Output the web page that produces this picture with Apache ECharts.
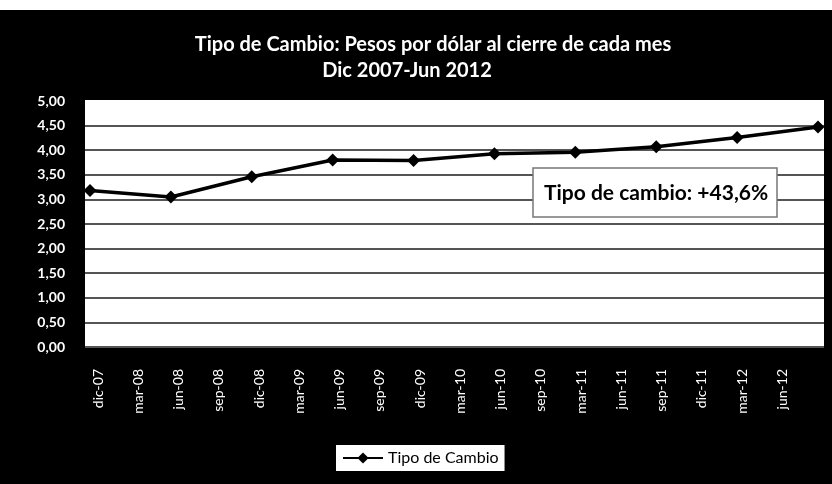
<!DOCTYPE html>
<html><head><meta charset="utf-8">
<script src="https://cdn.jsdelivr.net/npm/echarts@6/dist/echarts.min.js"></script>
<style>html,body{margin:0;padding:0;background:#fff}#c{width:832px;height:484px}</style>
</head><body><div id="c"></div>
<script>
var categories = ['dic-07','jun-08','dic-08','jun-09','dic-09','jun-10','dic-10','jun-11','dic-11','jun-12'];
var values = [3.18, 3.05, 3.46, 3.80, 3.79, 3.93, 3.96, 4.07, 4.26, 4.47];
var tickLabels = ['dic-07','mar-08','jun-08','sep-08','dic-08','mar-09','jun-09','sep-09','dic-09','mar-10','jun-10','sep-10','mar-11','jun-11','sep-11','dic-11','mar-12','jun-12',''];
var seriesName = 'Tipo de Cambio';
var title1 = 'Tipo de Cambio: Pesos por dólar al cierre de cada mes';
var title2 = 'Dic 2007-Jun 2012';
var note = 'Tipo de cambio: +43,6%';

var FONT = 'Lato';
var chart = echarts.init(document.getElementById('c'));
var gTop = 101, gBottom = 137;
var gridColors = ['#555','#555','#555','#555','#555','#555','#555','#555','#555','#555','#fff'];
chart.setOption({
  backgroundColor: '#fff',
  animation: false,
  graphic: [
    {type:'rect', z:-10, shape:{x:0,y:10,width:832,height:474}, style:{fill:'#000'}},
    {type:'rect', z:100, zlevel:0, shape:{x:533,y:168,width:244,height:49}, style:{fill:'#fff', stroke:'#777', lineWidth:1.5}},
    {type:'text', z:101, x:544, y:193, style:{text:note, fill:'#000', font:'bold 21px '+FONT, verticalAlign:'middle'}}
  ],
  title: [
    {text:title1, left:428, top:30, textAlign:'center', textStyle:{color:'#fff', fontFamily:FONT, fontWeight:'bold', fontSize:20}},
    {text:title2, left:402, top:56, textAlign:'center', textStyle:{color:'#fff', fontFamily:FONT, fontWeight:'bold', fontSize:20}}
  ],
  legend: {
    data:[seriesName], left:336, top:445, backgroundColor:'#fff', padding:[5,6,5,6],
    itemWidth:40, itemHeight:14, itemGap:4, borderRadius:0,
    textStyle:{color:'#000', fontFamily:FONT, fontSize:16}
  },
  grid: [
    {left:85, right:8, top:gTop, bottom:gBottom, show:true, backgroundColor:'#fff', borderWidth:0},
    {left:90, right:14, top:gTop, bottom:gBottom},
    {left:98, right:9.5, top:gTop, bottom:gBottom}
  ],
  xAxis: [
    {gridIndex:0, type:'category', data:tickLabels, show:false},
    {gridIndex:1, type:'category', data:categories, boundaryGap:false, show:false},
    {gridIndex:2, type:'category', data:tickLabels, boundaryGap:false,
      axisLine:{show:false}, axisTick:{show:false}, splitLine:{show:false},
      axisLabel:{rotate:90, color:'#fff', fontFamily:FONT, fontSize:14, margin:22, interval:0}}
  ],
  yAxis: [
    {gridIndex:0, type:'value', min:0, max:5, interval:0.5,
      axisLine:{show:false}, axisTick:{show:false},
      axisLabel:{color:'#fff', fontFamily:FONT, fontSize:14, fontWeight:'bold', margin:20,
        formatter:function(v){return v.toFixed(2).replace('.', ',');}},
      splitLine:{show:true, lineStyle:{color:gridColors, width:2}}},
    {gridIndex:1, type:'value', min:0, max:5, interval:0.5, show:false, splitLine:{show:false}},
    {gridIndex:2, type:'value', min:0, max:5, interval:0.5, show:false, splitLine:{show:false}}
  ],
  series: [{
    name:seriesName, type:'line', xAxisIndex:1, yAxisIndex:1, data:values,
    symbol:'diamond', symbolSize:13, lineStyle:{color:'#000', width:3.5},
    itemStyle:{color:'#000'}, z:5
  }]
});
</script></body></html>
